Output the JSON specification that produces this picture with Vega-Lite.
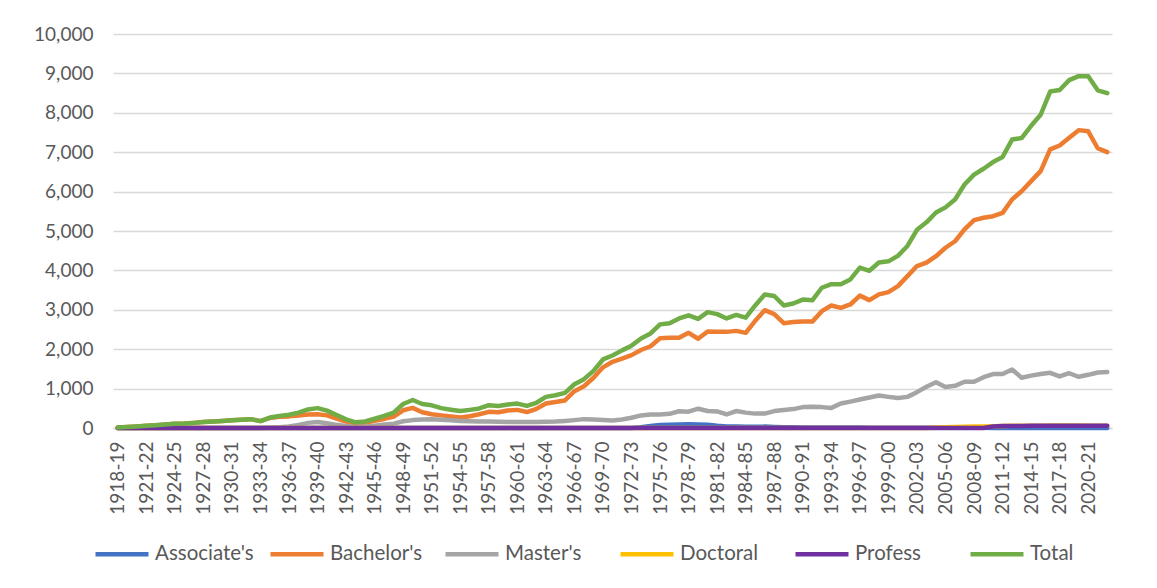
{
"$schema": "https://vega.github.io/schema/vega-lite/v6.json",
"width": 999, "height": 394,
"autosize": {"type": "none"},
"padding": {"left": 113, "top": 34, "right": 45, "bottom": 160},
"background": "white",
"config": {"view": {"stroke": null}, "font": "Lato"},
"data": {"values": [
{"year":"1918-19","Associates":0,"Bachelors":10,"Masters":0,"Doctoral":0,"Profess":0,"Total":10},
{"year":"1919-20","Associates":0,"Bachelors":25,"Masters":0,"Doctoral":0,"Profess":0,"Total":25},
{"year":"1920-21","Associates":0,"Bachelors":40,"Masters":0,"Doctoral":0,"Profess":0,"Total":40},
{"year":"1921-22","Associates":0,"Bachelors":55,"Masters":0,"Doctoral":0,"Profess":0,"Total":55},
{"year":"1922-23","Associates":0,"Bachelors":70,"Masters":0,"Doctoral":0,"Profess":0,"Total":70},
{"year":"1923-24","Associates":0,"Bachelors":90,"Masters":0,"Doctoral":0,"Profess":0,"Total":90},
{"year":"1924-25","Associates":0,"Bachelors":110,"Masters":0,"Doctoral":0,"Profess":0,"Total":110},
{"year":"1925-26","Associates":0,"Bachelors":115,"Masters":0,"Doctoral":0,"Profess":0,"Total":115},
{"year":"1926-27","Associates":0,"Bachelors":130,"Masters":0,"Doctoral":0,"Profess":0,"Total":130},
{"year":"1927-28","Associates":0,"Bachelors":150,"Masters":0,"Doctoral":0,"Profess":0,"Total":150},
{"year":"1928-29","Associates":0,"Bachelors":165,"Masters":0,"Doctoral":0,"Profess":0,"Total":165},
{"year":"1929-30","Associates":0,"Bachelors":180,"Masters":0,"Doctoral":0,"Profess":0,"Total":180},
{"year":"1930-31","Associates":0,"Bachelors":195,"Masters":0,"Doctoral":0,"Profess":0,"Total":195},
{"year":"1931-32","Associates":0,"Bachelors":210,"Masters":0,"Doctoral":0,"Profess":0,"Total":210},
{"year":"1932-33","Associates":0,"Bachelors":225,"Masters":0,"Doctoral":0,"Profess":0,"Total":225},
{"year":"1933-34","Associates":0,"Bachelors":175,"Masters":0,"Doctoral":0,"Profess":0,"Total":175},
{"year":"1934-35","Associates":0,"Bachelors":255,"Masters":10,"Doctoral":0,"Profess":0,"Total":265},
{"year":"1935-36","Associates":0,"Bachelors":285,"Masters":20,"Doctoral":0,"Profess":0,"Total":305},
{"year":"1936-37","Associates":0,"Bachelors":295,"Masters":40,"Doctoral":0,"Profess":0,"Total":335},
{"year":"1937-38","Associates":0,"Bachelors":320,"Masters":80,"Doctoral":0,"Profess":0,"Total":390},
{"year":"1938-39","Associates":0,"Bachelors":345,"Masters":130,"Doctoral":0,"Profess":0,"Total":470},
{"year":"1939-40","Associates":0,"Bachelors":350,"Masters":150,"Doctoral":0,"Profess":0,"Total":505},
{"year":"1940-41","Associates":0,"Bachelors":320,"Masters":120,"Doctoral":0,"Profess":0,"Total":440},
{"year":"1941-42","Associates":0,"Bachelors":240,"Masters":80,"Doctoral":0,"Profess":0,"Total":330},
{"year":"1942-43","Associates":0,"Bachelors":165,"Masters":50,"Doctoral":0,"Profess":0,"Total":220},
{"year":"1943-44","Associates":0,"Bachelors":120,"Masters":25,"Doctoral":0,"Profess":0,"Total":145},
{"year":"1944-45","Associates":0,"Bachelors":130,"Masters":35,"Doctoral":0,"Profess":0,"Total":165},
{"year":"1945-46","Associates":0,"Bachelors":180,"Masters":60,"Doctoral":0,"Profess":0,"Total":235},
{"year":"1946-47","Associates":0,"Bachelors":230,"Masters":90,"Doctoral":0,"Profess":0,"Total":305},
{"year":"1947-48","Associates":0,"Bachelors":290,"Masters":110,"Doctoral":0,"Profess":0,"Total":390},
{"year":"1948-49","Associates":0,"Bachelors":450,"Masters":170,"Doctoral":0,"Profess":0,"Total":610},
{"year":"1949-50","Associates":0,"Bachelors":510,"Masters":200,"Doctoral":0,"Profess":0,"Total":710},
{"year":"1950-51","Associates":0,"Bachelors":400,"Masters":215,"Doctoral":0,"Profess":0,"Total":610},
{"year":"1951-52","Associates":0,"Bachelors":350,"Masters":225,"Doctoral":0,"Profess":0,"Total":575},
{"year":"1952-53","Associates":0,"Bachelors":320,"Masters":210,"Doctoral":0,"Profess":0,"Total":505},
{"year":"1953-54","Associates":0,"Bachelors":290,"Masters":195,"Doctoral":0,"Profess":0,"Total":465},
{"year":"1954-55","Associates":0,"Bachelors":265,"Masters":180,"Doctoral":0,"Profess":0,"Total":430},
{"year":"1955-56","Associates":0,"Bachelors":300,"Masters":170,"Doctoral":0,"Profess":0,"Total":460},
{"year":"1956-57","Associates":0,"Bachelors":350,"Masters":165,"Doctoral":0,"Profess":0,"Total":495},
{"year":"1957-58","Associates":0,"Bachelors":410,"Masters":165,"Doctoral":0,"Profess":0,"Total":580},
{"year":"1958-59","Associates":0,"Bachelors":400,"Masters":160,"Doctoral":0,"Profess":0,"Total":560},
{"year":"1959-60","Associates":0,"Bachelors":445,"Masters":155,"Doctoral":0,"Profess":0,"Total":595},
{"year":"1960-61","Associates":0,"Bachelors":460,"Masters":150,"Doctoral":0,"Profess":0,"Total":620},
{"year":"1961-62","Associates":0,"Bachelors":405,"Masters":150,"Doctoral":0,"Profess":0,"Total":560},
{"year":"1962-63","Associates":0,"Bachelors":485,"Masters":150,"Doctoral":0,"Profess":0,"Total":640},
{"year":"1963-64","Associates":0,"Bachelors":620,"Masters":160,"Doctoral":0,"Profess":0,"Total":790},
{"year":"1964-65","Associates":0,"Bachelors":660,"Masters":165,"Doctoral":0,"Profess":0,"Total":830},
{"year":"1965-66","Associates":0,"Bachelors":700,"Masters":180,"Doctoral":0,"Profess":0,"Total":890},
{"year":"1966-67","Associates":0,"Bachelors":935,"Masters":200,"Doctoral":0,"Profess":0,"Total":1110},
{"year":"1967-68","Associates":0,"Bachelors":1060,"Masters":225,"Doctoral":0,"Profess":0,"Total":1240},
{"year":"1968-69","Associates":0,"Bachelors":1275,"Masters":215,"Doctoral":0,"Profess":0,"Total":1450},
{"year":"1969-70","Associates":0,"Bachelors":1540,"Masters":200,"Doctoral":0,"Profess":0,"Total":1740},
{"year":"1970-71","Associates":0,"Bachelors":1680,"Masters":190,"Doctoral":0,"Profess":0,"Total":1840},
{"year":"1971-72","Associates":0,"Bachelors":1760,"Masters":215,"Doctoral":0,"Profess":0,"Total":1970},
{"year":"1972-73","Associates":0,"Bachelors":1850,"Masters":260,"Doctoral":0,"Profess":0,"Total":2090},
{"year":"1973-74","Associates":20,"Bachelors":1980,"Masters":320,"Doctoral":0,"Profess":0,"Total":2270},
{"year":"1974-75","Associates":50,"Bachelors":2075,"Masters":345,"Doctoral":0,"Profess":0,"Total":2400},
{"year":"1975-76","Associates":75,"Bachelors":2280,"Masters":345,"Doctoral":0,"Profess":0,"Total":2630},
{"year":"1976-77","Associates":85,"Bachelors":2290,"Masters":360,"Doctoral":0,"Profess":0,"Total":2660},
{"year":"1977-78","Associates":90,"Bachelors":2290,"Masters":425,"Doctoral":0,"Profess":0,"Total":2780},
{"year":"1978-79","Associates":95,"Bachelors":2415,"Masters":415,"Doctoral":0,"Profess":0,"Total":2860},
{"year":"1979-80","Associates":90,"Bachelors":2265,"Masters":490,"Doctoral":0,"Profess":0,"Total":2770},
{"year":"1980-81","Associates":80,"Bachelors":2450,"Masters":430,"Doctoral":0,"Profess":0,"Total":2940},
{"year":"1981-82","Associates":55,"Bachelors":2440,"Masters":420,"Doctoral":0,"Profess":0,"Total":2890},
{"year":"1982-83","Associates":40,"Bachelors":2440,"Masters":345,"Doctoral":0,"Profess":0,"Total":2780},
{"year":"1983-84","Associates":40,"Bachelors":2465,"Masters":430,"Doctoral":0,"Profess":0,"Total":2870},
{"year":"1984-85","Associates":30,"Bachelors":2415,"Masters":390,"Doctoral":0,"Profess":0,"Total":2800},
{"year":"1985-86","Associates":30,"Bachelors":2720,"Masters":365,"Doctoral":0,"Profess":0,"Total":3110},
{"year":"1986-87","Associates":35,"Bachelors":2990,"Masters":365,"Doctoral":0,"Profess":0,"Total":3390},
{"year":"1987-88","Associates":25,"Bachelors":2890,"Masters":430,"Doctoral":0,"Profess":0,"Total":3350},
{"year":"1988-89","Associates":20,"Bachelors":2660,"Masters":455,"Doctoral":0,"Profess":0,"Total":3110},
{"year":"1989-90","Associates":20,"Bachelors":2690,"Masters":480,"Doctoral":0,"Profess":0,"Total":3160},
{"year":"1990-91","Associates":15,"Bachelors":2700,"Masters":530,"Doctoral":0,"Profess":0,"Total":3260},
{"year":"1991-92","Associates":15,"Bachelors":2700,"Masters":540,"Doctoral":0,"Profess":0,"Total":3240},
{"year":"1992-93","Associates":15,"Bachelors":2965,"Masters":530,"Doctoral":0,"Profess":0,"Total":3560},
{"year":"1993-94","Associates":10,"Bachelors":3110,"Masters":510,"Doctoral":0,"Profess":0,"Total":3650},
{"year":"1994-95","Associates":10,"Bachelors":3050,"Masters":620,"Doctoral":0,"Profess":0,"Total":3650},
{"year":"1995-96","Associates":10,"Bachelors":3135,"Masters":670,"Doctoral":0,"Profess":0,"Total":3770},
{"year":"1996-97","Associates":10,"Bachelors":3360,"Masters":725,"Doctoral":0,"Profess":0,"Total":4070},
{"year":"1997-98","Associates":5,"Bachelors":3245,"Masters":775,"Doctoral":0,"Profess":0,"Total":3990},
{"year":"1998-99","Associates":5,"Bachelors":3390,"Masters":825,"Doctoral":0,"Profess":0,"Total":4200},
{"year":"1999-00","Associates":5,"Bachelors":3450,"Masters":790,"Doctoral":0,"Profess":0,"Total":4230},
{"year":"2000-01","Associates":5,"Bachelors":3600,"Masters":760,"Doctoral":0,"Profess":0,"Total":4370},
{"year":"2001-02","Associates":5,"Bachelors":3855,"Masters":790,"Doctoral":0,"Profess":0,"Total":4620},
{"year":"2002-03","Associates":5,"Bachelors":4110,"Masters":910,"Doctoral":0,"Profess":0,"Total":5030},
{"year":"2003-04","Associates":5,"Bachelors":4195,"Masters":1045,"Doctoral":0,"Profess":0,"Total":5220},
{"year":"2004-05","Associates":5,"Bachelors":4360,"Masters":1160,"Doctoral":10,"Profess":0,"Total":5470},
{"year":"2005-06","Associates":5,"Bachelors":4575,"Masters":1040,"Doctoral":20,"Profess":0,"Total":5600},
{"year":"2006-07","Associates":5,"Bachelors":4740,"Masters":1070,"Doctoral":25,"Profess":0,"Total":5800},
{"year":"2007-08","Associates":5,"Bachelors":5040,"Masters":1175,"Doctoral":30,"Profess":0,"Total":6180},
{"year":"2008-09","Associates":5,"Bachelors":5275,"Masters":1175,"Doctoral":35,"Profess":0,"Total":6430},
{"year":"2009-10","Associates":5,"Bachelors":5335,"Masters":1290,"Doctoral":40,"Profess":0,"Total":6580},
{"year":"2010-11","Associates":0,"Bachelors":5375,"Masters":1370,"Doctoral":45,"Profess":40,"Total":6750},
{"year":"2011-12","Associates":0,"Bachelors":5460,"Masters":1370,"Doctoral":50,"Profess":50,"Total":6880},
{"year":"2012-13","Associates":0,"Bachelors":5800,"Masters":1485,"Doctoral":55,"Profess":50,"Total":7320},
{"year":"2013-14","Associates":0,"Bachelors":6010,"Masters":1275,"Doctoral":60,"Profess":50,"Total":7360},
{"year":"2014-15","Associates":0,"Bachelors":6265,"Masters":1330,"Doctoral":60,"Profess":55,"Total":7670},
{"year":"2015-16","Associates":0,"Bachelors":6520,"Masters":1370,"Doctoral":60,"Profess":55,"Total":7950},
{"year":"2016-17","Associates":0,"Bachelors":7070,"Masters":1400,"Doctoral":65,"Profess":55,"Total":8540},
{"year":"2017-18","Associates":0,"Bachelors":7170,"Masters":1310,"Doctoral":65,"Profess":55,"Total":8580},
{"year":"2018-19","Associates":0,"Bachelors":7365,"Masters":1390,"Doctoral":65,"Profess":55,"Total":8830},
{"year":"2019-20","Associates":0,"Bachelors":7560,"Masters":1300,"Doctoral":65,"Profess":55,"Total":8930},
{"year":"2020-21","Associates":0,"Bachelors":7530,"Masters":1350,"Doctoral":60,"Profess":55,"Total":8930},
{"year":"2021-22","Associates":0,"Bachelors":7100,"Masters":1410,"Doctoral":60,"Profess":55,"Total":8570},
{"year":"2022-23","Associates":0,"Bachelors":7000,"Masters":1420,"Doctoral":60,"Profess":55,"Total":8500}
]},
"transform": [{"fold": ["Associates","Bachelors","Masters","Doctoral","Profess","Total"], "as": ["series","value"]}],
"mark": {"type": "line", "strokeWidth": 4.5, "strokeCap": "round", "strokeJoin": "round"},
"encoding": {
 "x": {"field": "year", "type": "ordinal", "sort": null,
  "scale": {"type": "point", "padding": 0.5},
  "axis": {"values": ["1918-19","1921-22","1924-25","1927-28","1930-31","1933-34","1936-37","1939-40","1942-43","1945-46","1948-49","1951-52","1954-55","1957-58","1960-61","1963-64","1966-67","1969-70","1972-73","1975-76","1978-79","1981-82","1984-85","1987-88","1990-91","1993-94","1996-97","1999-00","2002-03","2005-06","2008-09","2011-12","2014-15","2017-18","2020-21"],
   "labelAngle": -90, "labelFont": "Lato", "labelFontSize": 19, "labelColor": "#595959", "labelPadding": 13, "labelOverlap": false,
   "ticks": false, "domain": true, "domainColor": "#d9d9d9", "domainWidth": 1.5, "grid": false, "title": null}},
 "y": {"field": "value", "type": "quantitative",
  "scale": {"domain": [0, 10000], "nice": false, "zero": true},
  "axis": {"values": [0,1000,2000,3000,4000,5000,6000,7000,8000,9000,10000], "format": ",.0f",
   "labelFont": "Lato", "labelFontSize": 19, "labelColor": "#595959", "labelPadding": 20,
   "ticks": false, "domain": false, "grid": true, "gridColor": "#d9d9d9", "gridWidth": 1.5, "title": null}},
 "color": {"field": "series", "type": "nominal",
  "scale": {"domain": ["Associates","Bachelors","Masters","Doctoral","Profess","Total"],
   "range": ["#4472C4","#ED7D31","#A5A5A5","#FFC000","#7030A0","#70AD47"]},
  "legend": {"orient": "none", "legendX": -20, "legendY": 491, "direction": "horizontal", "columns": 6, "gridAlign": "all", "title": null,
   "symbolType": "stroke", "symbolSize": 2809, "symbolStrokeWidth": 4.5,
   "labelFont": "Lato", "labelFontSize": 20.5, "labelColor": "#595959", "labelOffset": 4, "columnPadding": 7,
   "labelExpr": "datum.label == 'Associates' ? \"Associate's\" : datum.label == 'Bachelors' ? \"Bachelor's\" : datum.label == 'Masters' ? \"Master's\" : datum.label"}}
}
}
